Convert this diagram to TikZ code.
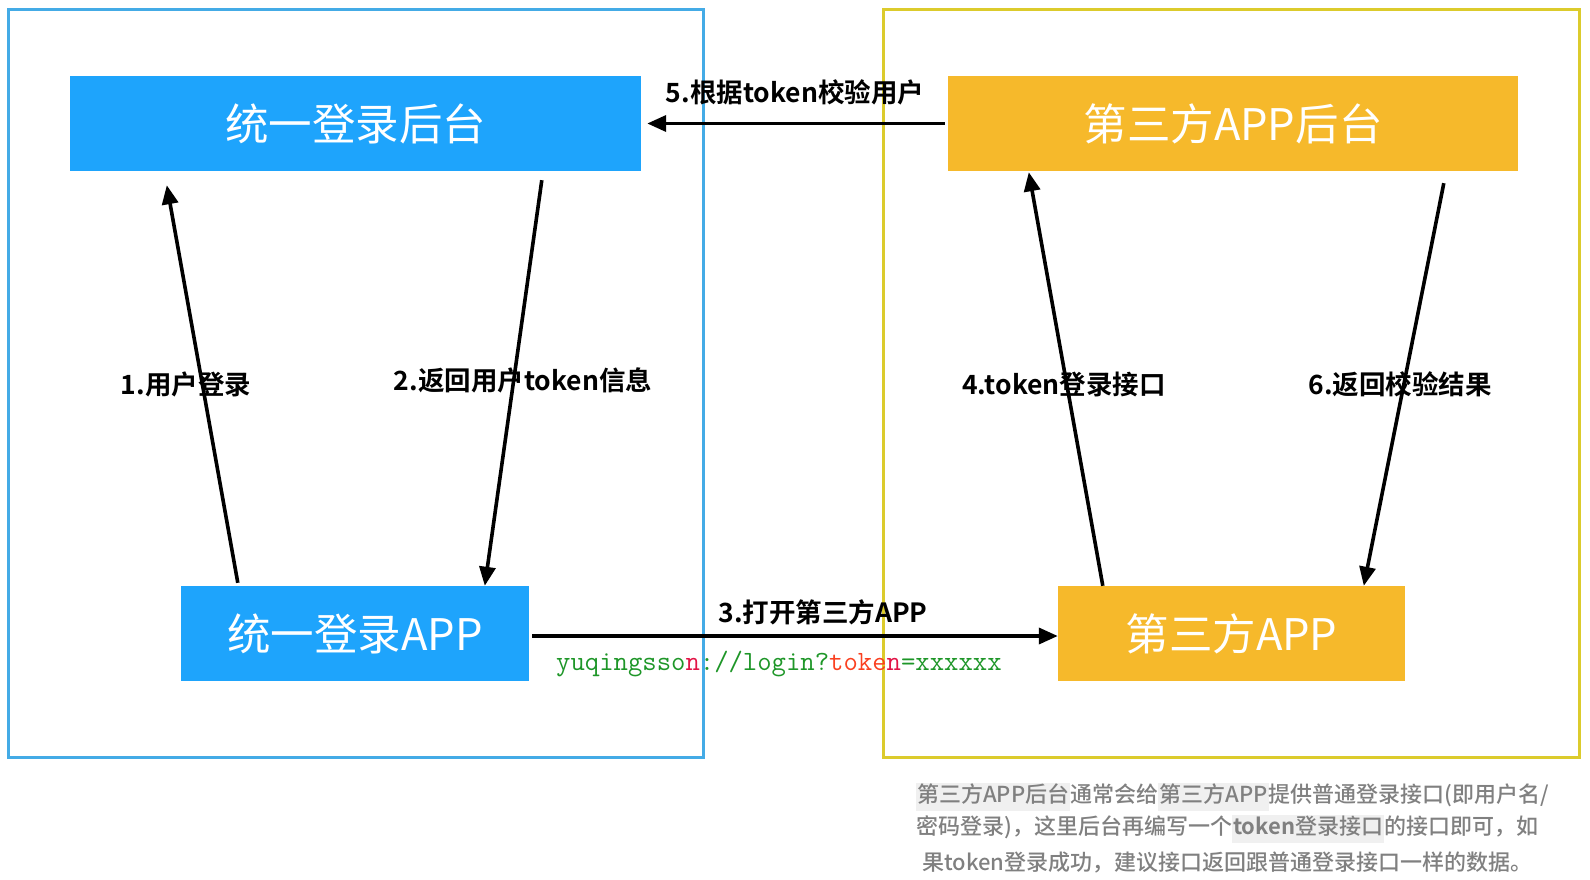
\documentclass[tikz,border=0pt]{standalone}
\usepackage{fontspec}
\setmainfont{Noto Sans CJK SC}[BoldFont={Noto Sans CJK SC Bold}]
\newfontfamily\notefont{Noto Sans CJK SC Medium}[BoldFont={Noto Sans CJK SC Bold}]
\usetikzlibrary{arrows.meta}
\definecolor{boxblue}{RGB}{30,164,252}
\definecolor{boxorange}{RGB}{246,185,43}
\definecolor{frameblue}{RGB}{68,171,230}
\definecolor{frameyellow}{RGB}{220,203,44}
\definecolor{urlgreen}{RGB}{30,150,40}
\definecolor{urlcrimson}{RGB}{226,20,70}
\definecolor{urlred}{RGB}{250,64,32}
\definecolor{notegray}{RGB}{128,128,128}
\definecolor{hlgray}{RGB}{240,240,240}
\newcommand\notehl[1]{{\setlength{\fboxsep}{1pt}\colorbox{hlgray}{\strut #1}}}
\tikzset{
  bluebox/.style={fill=boxblue, text=white, inner sep=0pt, font=\fontsize{43.5}{50}\selectfont},
  orangebox/.style={fill=boxorange, text=white, inner sep=0pt, font=\fontsize{43.5}{50}\selectfont},
  arr/.style={line width=3.6pt, -{Triangle[length=19pt,width=16pt]}},
  lbl/.style={inner sep=0pt, font=\fontsize{26.5}{30}\selectfont\bfseries},
  notel/.style={inner sep=0pt, anchor=west, text=notegray, font=\fontsize{22}{26}\notefont},
  frame/.style={line width=3pt}
}
\begin{document}
\begin{tikzpicture}[x=1pt,y=-1pt]
\useasboundingbox (0,0) rectangle (1590,880);
\draw[frame, frameblue] (8,10) rectangle (703,757);
\draw[frame, frameyellow] (883,10) rectangle (1579,757);

\node[bluebox, minimum width=571pt, minimum height=95pt] (b1) at (355.5,123.5) {统一登录后台};
\node[orangebox, minimum width=570pt, minimum height=95pt] (b2) at (1233,123.5) {第三方APP后台};
\node[bluebox, minimum width=348pt, minimum height=95pt] (b3) at (355,633.5) {统一登录APP};
\node[orangebox, minimum width=347pt, minimum height=95pt] (b4) at (1231.5,633.5) {第三方APP};

\draw[arr] ([xshift=57pt,yshift=3pt]b3.north west) -- ([xshift=97pt,yshift=-14pt]b1.south west);
\draw[arr] ([xshift=472pt,yshift=-9pt]b1.south west) -- ([xshift=304pt]b3.north west);
\draw[arr] ([xshift=3pt,yshift=-2.5pt]b3.east) -- ([yshift=-2.5pt]b4.west);
\draw[arr] ([xshift=45pt]b4.north west) -- ([xshift=81pt,yshift=-1pt]b2.south west);
\draw[arr] ([xshift=-3pt]b2.west) -- ([xshift=6pt]b1.east);
\draw[arr] ([xshift=496pt,yshift=-12pt]b2.south west) -- ([xshift=306pt]b4.north west);

\node[lbl] (l1) at (186,384) {1.用户登录};
\node[lbl] (l2) at (523,380) {2.返回用户token信息};
\node[lbl] (l3) at (823,612) {3.打开第三方APP};
\node[lbl] (l4) at (1064,384) {4.token登录接口};
\node[lbl] (l5) at (795,92) {5.根据token校验用户};
\node[lbl] (l6) at (1400,384) {6.返回校验结果};

\node[inner sep=0pt, anchor=west, font=\fontsize{27.9}{30}\ttfamily] (url) at (556,664)
  {\textcolor{urlgreen}{yuqingsso}\textcolor{urlcrimson}{n}\textcolor{urlgreen}{://login?}\textcolor{urlred}{toke}\textcolor{urlcrimson}{n}\textcolor{urlgreen}{=xxxxxx}};

\node[notel] (n1) at (916,797) {\notehl{第三方APP后台}通常会给\notehl{第三方APP}提供普通登录接口(即用户名/};
\node[notel] (n2) at (916,829) {密码登录)，这里后台再编写一个\notehl{\textbf{token}登录接口}的接口即可，如};
\node[notel] (n3) at (922,862) {果token登录成功，建议接口返回跟普通登录接口一样的数据。};
\end{tikzpicture}
\end{document}
